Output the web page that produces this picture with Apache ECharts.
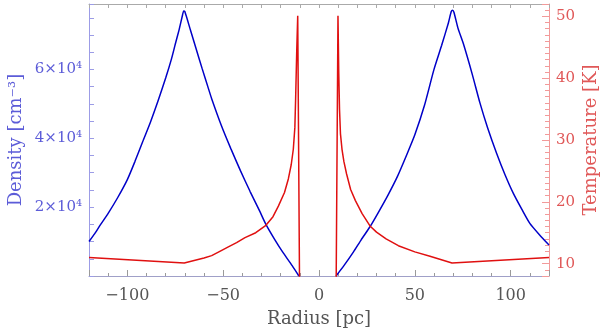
<!DOCTYPE html>
<html><head><meta charset="utf-8">
<script src="https://cdn.jsdelivr.net/npm/echarts@6/dist/echarts.min.js"></script>
<style>html,body{margin:0;padding:0;background:#fff}#c{width:600px;height:329px}</style>
</head><body><div id="c"></div>
<script>
// Density [cm^-3] vs radius [pc]
const densityLeft = [[-120,10000],[-117,12300],[-114,14900],[-110,18200],[-105,22800],[-100,28000],[-96,33300],[-92,39000],[-88,44600],[-84,50800],[-80,57500],[-77,63000],[-75,67300],[-73,71500],[-71.2,75800],[-70.6,77000],[-70,76800],[-67,71300],[-64,65800],[-61,60300],[-58,55000],[-56,51500],[-51,43800],[-46,37000],[-41,30600],[-36,24600],[-31,18900],[-27.7,15000],[-23,10500],[-19,7000],[-14,3000],[-10.5,0]];
const densityRight = [[8.9,0],[13,3000],[18,7000],[22,10500],[26.6,14300],[31,18500],[36,23500],[41,29000],[46,35500],[50,41000],[55,49500],[60,60000],[64,67000],[67.5,73500],[69,76800],[69.7,77200],[70.4,76600],[72.5,72000],[75.3,67500],[80,58500],[84,50200],[88,43000],[92.7,35600],[97,29500],[101.4,24000],[106,19200],[110,15300],[115,12000],[120,9000]];
// Temperature [K] vs radius [pc]
const tempLeft = [[-120,11.0],[-70.3,10.1],[-60,10.9],[-56,11.3],[-51,12.1],[-47.3,12.7],[-43,13.4],[-38.6,14.2],[-33,15.0],[-27.7,16.2],[-24,17.6],[-21.2,19.3],[-18,21.5],[-16,23.7],[-14.5,26],[-13.4,28.5],[-12.6,32],[-12.2,36.6],[-11.6,44.6],[-11.1,50.1],[-10,0]];
const tempRight = [[8.8,0],[9.9,50.1],[10.3,41],[10.7,35],[11.2,31],[12,28.5],[13,26.5],[14.4,24.5],[16.5,22],[19,20.2],[22.5,18.1],[26.6,16.1],[30,15.1],[35,14.0],[41.4,12.9],[50,11.9],[57.9,11.2],[69.4,10.1],[120,11.0]];
// Tick labels
const xTickLabels = [-100,-50,0,50,100];
const densityTickLabels = [20000,40000,60000];
const tempTickLabels = [10,20,30,40,50];

const FONT = 'DejaVu Serif';
const BLUE = '#0000c8', RED = '#e01010';
const AXBLUE = '#9c9ce6', LBLBLUE = '#5c5cd8';
const AXRED = '#f29a9a', LBLRED = '#e05858';

const chart = echarts.init(document.getElementById('c'), null, {renderer:'canvas'});
chart.setOption({
  animation:false,
  backgroundColor:'#fff',
  grid:{left:89, right:51, top:4, bottom:53, containLabel:false, outerBoundsMode:'none'},
  xAxis:[
    {type:'value', position:'bottom', min:-120, max:120, splitNumber:5,
     axisLine:{show:true, onZero:false, lineStyle:{color:'#a0a0c8', width:1}},
     axisTick:{show:true, inside:true, length:6, lineStyle:{color:'#9a9a9a'}},
     axisLabel:{margin:12, fontFamily:FONT, fontSize:16, color:'#555',
       formatter:v=> xTickLabels.includes(v) ? (v<0 ? '\u2212'+(-v) : String(v)) : ''},
     splitLine:{show:false},
     name:'Radius [pc]', nameLocation:'middle', nameGap:34, nameMoveOverlap:false,
     nameTextStyle:{fontFamily:FONT, fontSize:18, color:'#555'}},
    {type:'value', position:'bottom', min:-120, max:120, interval:10,
     axisLine:{show:false, onZero:false}, axisTick:{show:true, inside:true, length:3, lineStyle:{color:'#9a9a9a'}},
     axisLabel:{show:false}, splitLine:{show:false}},
    {type:'value', position:'top', min:-120, max:120, interval:10,
     axisLine:{show:true, onZero:false, lineStyle:{color:'#aaaaaa', width:1}},
     axisTick:{show:true, inside:true, length:4, lineStyle:{color:'#aaaaaa'}},
     axisLabel:{show:false}, splitLine:{show:false}}
  ],
  yAxis:[
    {type:'value', position:'left', min:0, max:79000, interval:5000,
     axisLine:{show:true, onZero:false, lineStyle:{color:AXBLUE, width:1}},
     axisTick:{show:true, inside:true, length:5, lineStyle:{color:AXBLUE}},
     axisLabel:{margin:7, fontFamily:FONT, fontSize:15, color:LBLBLUE,
       formatter:v=> densityTickLabels.includes(v) ? (v/10000)+'×10\u2074' : ''},
     splitLine:{show:false},
     name:'Density [cm\u207B\u00B3]', nameLocation:'middle', nameGap:64, nameRotate:90, nameMoveOverlap:false,
     nameTextStyle:{fontFamily:FONT, fontSize:18, color:LBLBLUE}},
    {type:'value', position:'right', min:8, max:52, splitNumber:5,
     axisLine:{show:true, onZero:false, lineStyle:{color:AXRED, width:1}},
     axisTick:{show:true, inside:true, length:7, lineStyle:{color:AXRED}},
     axisLabel:{margin:7, fontFamily:FONT, fontSize:15, color:LBLRED,
       formatter:v=> tempTickLabels.includes(v) ? String(v) : ''},
     splitLine:{show:false},
     name:'Temperature [K]', nameLocation:'middle', nameGap:33, nameRotate:90, nameMoveOverlap:false,
     nameTextStyle:{fontFamily:FONT, fontSize:18, color:LBLRED}},
    {type:'value', position:'right', min:8, max:52, interval:1,
     axisLine:{show:false, onZero:false}, axisTick:{show:true, inside:true, length:4, lineStyle:{color:AXRED}},
     axisLabel:{show:false}, splitLine:{show:false}}
  ],
  series:[
    {type:'line', xAxisIndex:0, yAxisIndex:0, data:densityLeft, showSymbol:false, clip:true, smooth:0.2,
     lineStyle:{color:BLUE, width:1.5}},
    {type:'line', xAxisIndex:0, yAxisIndex:0, data:densityRight, showSymbol:false, clip:true, smooth:0.2,
     lineStyle:{color:BLUE, width:1.5}},
    {type:'line', xAxisIndex:0, yAxisIndex:1, data:tempLeft, showSymbol:false, clip:true,
     lineStyle:{color:RED, width:1.5}},
    {type:'line', xAxisIndex:0, yAxisIndex:1, data:tempRight, showSymbol:false, clip:true,
     lineStyle:{color:RED, width:1.5}}
  ]
});
</script></body></html>
